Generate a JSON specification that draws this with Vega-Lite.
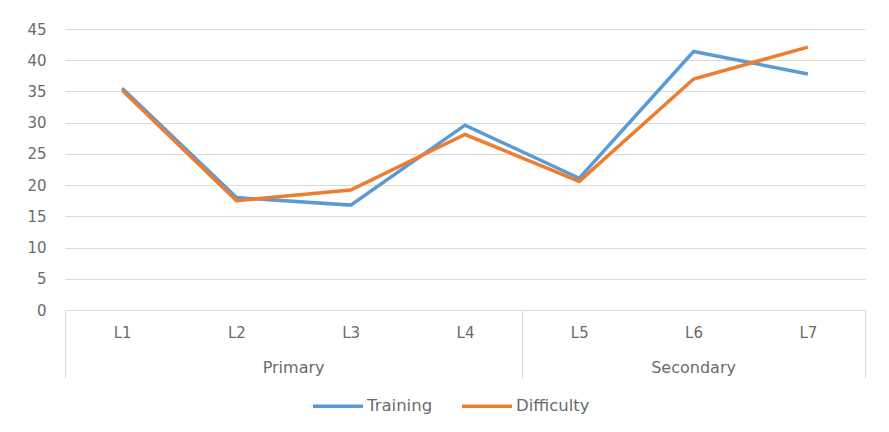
{
  "$schema": "https://vega.github.io/schema/vega-lite/v6.json",
  "width": 800,
  "height": 281,
  "autosize": {"type": "none"},
  "padding": {"left": 65, "top": 29, "right": 24, "bottom": 122},
  "background": "white",
  "config": {
    "view": {"stroke": null},
    "font": "DejaVu Sans",
    "axis": {"labelColor": "#6b6b6b", "labelFontSize": 15, "labelFont": "DejaVu Sans"},
    "legend": {"labelColor": "#6b6b6b", "labelFontSize": 16.5, "labelFont": "DejaVu Sans"}
  },
  "data": {
    "values": [
      {"level": "L1", "group": "Primary", "Training": 35.5, "Difficulty": 35.2},
      {"level": "L2", "group": "Primary", "Training": 18.0, "Difficulty": 17.5},
      {"level": "L3", "group": "Primary", "Training": 16.8, "Difficulty": 19.2},
      {"level": "L4", "group": "Primary", "Training": 29.6, "Difficulty": 28.1},
      {"level": "L5", "group": "Secondary", "Training": 21.1, "Difficulty": 20.6},
      {"level": "L6", "group": "Secondary", "Training": 41.4, "Difficulty": 37.0},
      {"level": "L7", "group": "Secondary", "Training": 37.8, "Difficulty": 42.1}
    ]
  },
  "layer": [
    {
      "transform": [{"fold": ["Training", "Difficulty"], "as": ["series", "value"]}],
      "mark": {"type": "line", "strokeWidth": 3.5, "strokeJoin": "miter"},
      "encoding": {
        "x": {
          "field": "level",
          "type": "nominal",
          "sort": null,
          "scale": {"type": "point", "padding": 0.5},
          "axis": {
            "title": null,
            "labelAngle": 0,
            "ticks": false,
            "domainColor": "#d9d9d9",
            "labelPadding": 15
          }
        },
        "y": {
          "field": "value",
          "type": "quantitative",
          "scale": {"domain": [0, 45], "nice": false},
          "axis": {
            "title": null,
            "values": [0, 5, 10, 15, 20, 25, 30, 35, 40, 45],
            "domain": false,
            "ticks": false,
            "gridColor": "#d9d9d9",
            "labelPadding": 19
          }
        },
        "color": {
          "field": "series",
          "type": "nominal",
          "scale": {"domain": ["Training", "Difficulty"], "range": ["#5b9bd5", "#ed7d31"]},
          "legend": {
            "title": null,
            "orient": "none",
            "legendX": 246,
            "legendY": 350,
            "direction": "horizontal",
            "symbolType": "stroke",
            "symbolStrokeWidth": 3.5,
            "symbolSize": 2500,
            "labelOffset": 2,
            "columnPadding": 22
          }
        }
      }
    },
    {
      "transform": [
        {"window": [{"op": "row_number", "as": "idx"}]},
        {"aggregate": [{"op": "mean", "field": "idx", "as": "center"}], "groupby": ["group"]}
      ],
      "mark": {"type": "text", "fontSize": 16, "font": "DejaVu Sans", "color": "#6b6b6b", "baseline": "middle"},
      "encoding": {
        "x": {
          "field": "center",
          "type": "quantitative",
          "scale": {"domain": [0.5, 7.5], "nice": false, "zero": false},
          "axis": {
            "orient": "bottom",
            "title": null,
            "values": [0.5, 4.5, 7.5],
            "labels": false,
            "domain": false,
            "grid": false,
            "tickColor": "#d9d9d9",
            "tickSize": 68
          }
        },
        "y": {"value": 339},
        "text": {"field": "group"}
      }
    }
  ],
  "resolve": {"scale": {"x": "independent"}, "axis": {"x": "independent"}}
}
